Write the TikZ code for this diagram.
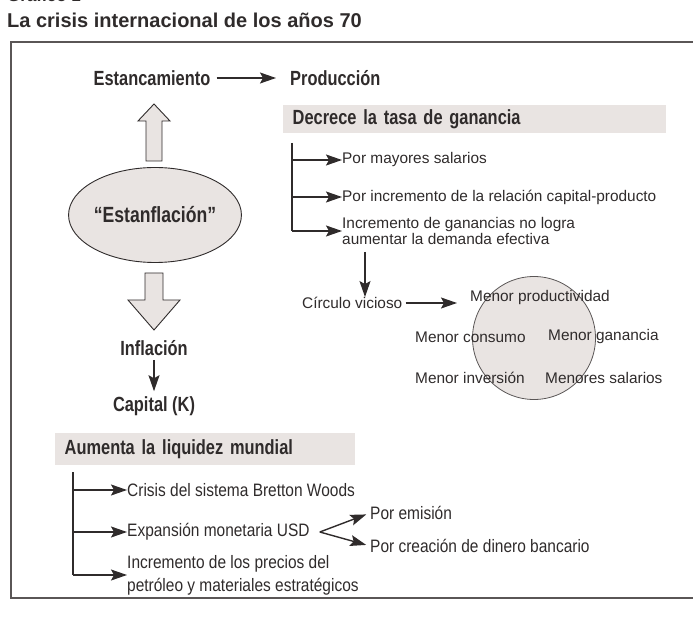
\documentclass[tikz,border=0pt]{standalone}
\usepackage{fontspec}
\setmainfont{Liberation Sans}
\newfontfamily\headfont[FakeStretch=0.80]{Liberation Sans}
\newfontfamily\lowfont[FakeStretch=0.86]{Liberation Sans}
\usetikzlibrary{arrows.meta,shapes.geometric}
\definecolor{ink}{HTML}{2F2B2B}
\definecolor{boxgray}{HTML}{E9E4E2}
\definecolor{rulegray}{HTML}{5A5656}

\begin{document}
\begin{tikzpicture}[x=1pt,y=-1pt,
	head/.style={font=\headfont\bfseries\fontsize{20.5}{22}\selectfont, text=ink, inner sep=0pt},
	txt/.style={font=\fontsize{15.4}{16}\selectfont, text=ink, inner sep=0pt, anchor=west, align=left},
	lowtxt/.style={font=\lowfont\fontsize{18}{23}\selectfont, text=ink, inner sep=0pt, anchor=west, align=left},
	band/.style={head, fill=boxgray, anchor=west, inner xsep=9.5pt, align=left},
	arr/.style={-{Stealth[length=16pt,width=11pt,inset=3pt]}, ink, line width=1.4pt},
	brack/.style={ink, line width=1.4pt},
	blockarrow/.style={draw=ink, fill=boxgray, line width=0.9pt, line join=miter}]
	\useasboundingbox (0,0) rectangle (693,617);
	
	% title and frame
	\node[anchor=base west, font=\bfseries\fontsize{17}{19}\selectfont, text=ink, inner sep=0pt] (grafico) at (7,2) {Gráfico 1};
	\node[anchor=west, font=\bfseries\fontsize{20}{22}\selectfont, text=ink, inner sep=0pt] (title) at (7,20) {La crisis internacional de los años 70};
	\draw[rulegray, line width=1.3pt] (700,42) -- (11,42) -- (11,598) -- (700,598);
	
	% left column
	\node[head] (estanc) at (152,78) {Estancamiento};
	\node[head, anchor=west] (prod) at (290,78) {Producción};
	\draw[arr, shorten <=6pt, shorten >=14pt] (estanc) -- (prod);
	
	\draw[blockarrow] (146,161) -- (146,121) -- (138,121) -- (154,104) -- (170,121) -- (162,121) -- (162,161) -- cycle;
	\node[ellipse, draw=ink, fill=boxgray, line width=0.9pt, minimum width=150pt, minimum height=95pt, head, font=\headfont\bfseries\fontsize{22}{24}\selectfont] (estanf) at (155,215) {“Estanflación”};
	\draw[blockarrow] (145,273) -- (145,300) -- (128,300) -- (154,330) -- (180,300) -- (163,300) -- (163,273) -- cycle;
	
	\node[head] (infl) at (154,348) {Inflación};
	\node[head] (capital) at (154,406) {Capital (K)};
	\draw[arr, shorten <=4pt, shorten >=5pt] (infl) -- (capital);
	
	% aumenta la liquidez
	\node[band, text width=281pt, minimum height=32pt] (liquidez) at (55,449) {Aumenta la liquidez mundial};
	\coordinate (liqtop) at (73,472);
	\node[lowtxt] (bretton) at (127,490) {Crisis del sistema Bretton Woods};
	\node[lowtxt] (usd) at (127,532) {Expansión monetaria USD};
	\node[lowtxt] (petroleo) at (127,575) {Incremento de los precios del\\petróleo y materiales estratégicos};
	\draw[brack] (liqtop) -- (liqtop |- petroleo.west);
	\draw[arr] (liqtop |- bretton.west) -- (bretton.west);
	\draw[arr] (liqtop |- usd.west) -- (usd.west);
	\draw[arr] (liqtop |- petroleo.west) -- (petroleo.west);
	
	\node[lowtxt] (emision) at (370,513) {Por emisión};
	\node[lowtxt] (bancario) at (370,546) {Por creación de dinero bancario};
	\coordinate (fork) at ([xshift=10pt]usd.east);
	\draw[arr, shorten >=4pt] (fork) -- (emision.west);
	\draw[arr, shorten >=4pt] (fork) -- (bancario.west);
	
	% decrece la tasa de ganancia
	\node[band, text width=364pt, minimum height=28pt] (tasa) at (283,119) {Decrece la tasa de ganancia};
	\coordinate (tasatop) at (292,143);
	\node[txt] (salarios) at (342,160) {Por mayores salarios};
	\node[txt] (relacion) at (342,197) {Por incremento de la relación capital-producto};
	\node[txt] (demanda) at (342,231) {Incremento de ganancias no logra\\aumentar la demanda efectiva};
	\draw[brack] (tasatop) -- (tasatop |- demanda.west);
	\draw[arr] (tasatop |- salarios.west) -- (salarios.west);
	\draw[arr] (tasatop |- relacion.west) -- (relacion.west);
	\draw[arr] (tasatop |- demanda.west) -- (demanda.west);
	
	% circulo vicioso
	\node[txt] (vicioso) at (302,303) {Círculo vicioso};
	\coordinate (bajada) at (365,252);
	\draw[arr] (bajada) -- (bajada |- vicioso.north);
	\node[circle, draw=rulegray, fill=boxgray, line width=0.8pt, minimum size=123pt] (circulo) at (534,338) {};
	\node[txt] (productividad) at (470,298) {Menor productividad};
	\node[txt] (consumo) at (415,337) {Menor consumo};
	\node[txt] (ganancia) at (548,337) {Menor ganancia};
	\node[txt] (inversion) at (415,378) {Menor inversión};
	\node[txt] (msalarios) at (545,378) {Menores salarios};
	\draw[arr, shorten <=3pt, shorten >=13pt] (vicioso.east) -- (productividad.west |- vicioso.east);
\end{tikzpicture}
\end{document}
